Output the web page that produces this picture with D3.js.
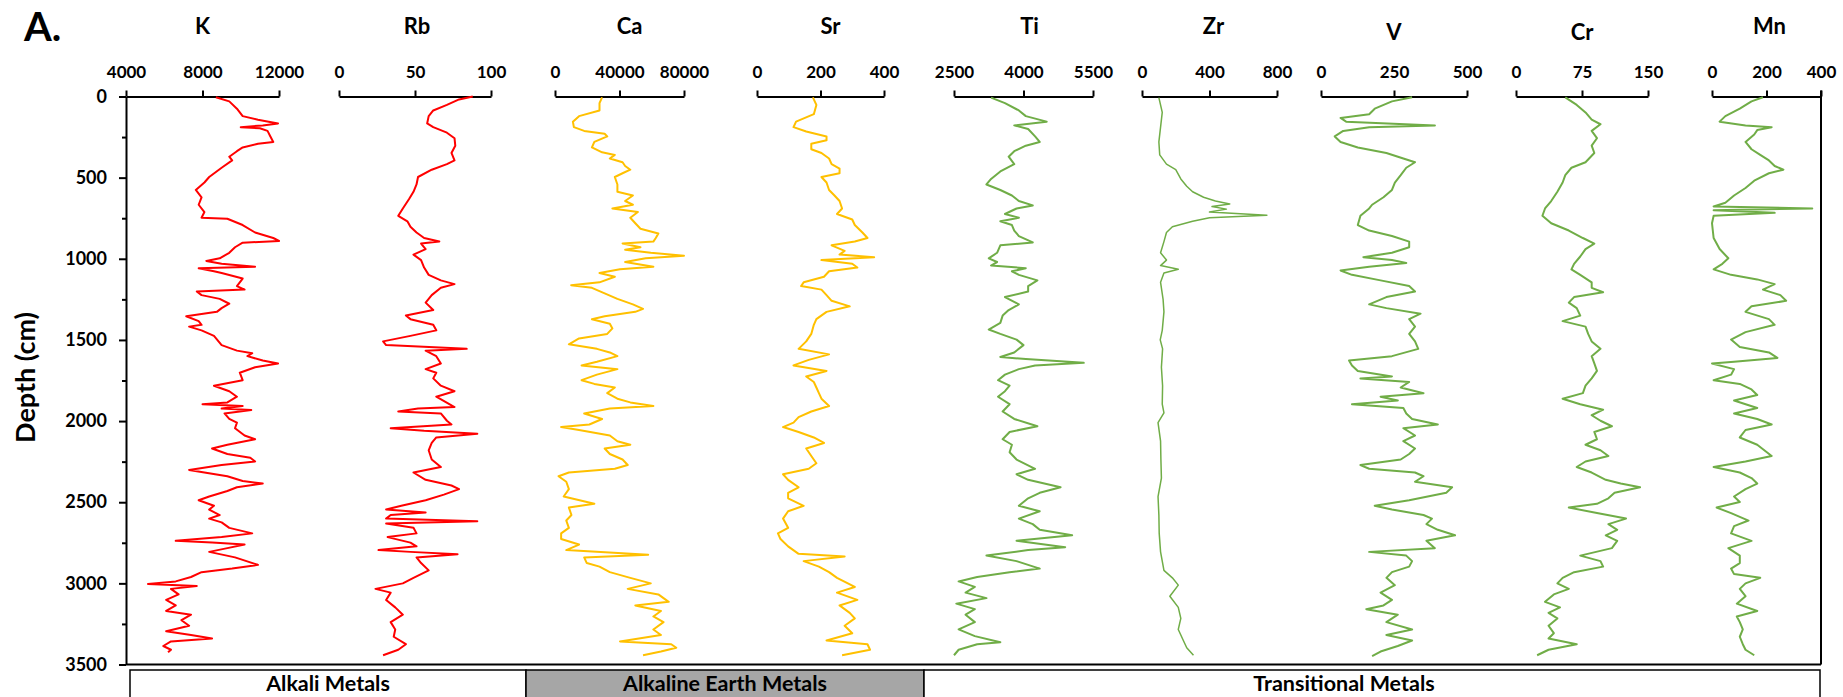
<!DOCTYPE html>
<html>
<head>
<meta charset="utf-8">
<script src="https://cdn.jsdelivr.net/npm/d3@7"></script>
<style>
  body { margin: 0; background: #fff; }
  svg text { font-family: Lato, "Open Sans", sans-serif; font-weight: bold; fill: #000; }
</style>
</head>
<body>
<svg id="chart" width="1843" height="697"></svg>
<script>
// depth (cm), value (ppm)
const kData = [[5,8700],[30,9400],[75,9800],[121,10100],[143,10900],[166,11950],[178,11150],[189,10000],[196,11000],[212,11400],[246,11550],[280,11700],[291,10900],[314,10100],[337,9800],[371,9400],[394,9550],[439,9000],[496,8350],[530,8100],[576,7650],[621,7950],[667,7800],[712,8100],[747,7950],[753,9300],[792,10100],[838,10750],[872,11700],[890,12000],[901,10100],[929,9700],[963,9400],[997,8900],[1013,8200],[1031,9000],[1049,10750],[1058,7800],[1077,8600],[1088,9000],[1122,10100],[1168,9800],[1190,10200],[1202,7700],[1224,7950],[1247,8900],[1277,9400],[1304,9000],[1327,8750],[1354,7150],[1384,7800],[1407,7950],[1418,7300],[1441,7950],[1475,8600],[1532,9000],[1566,9800],[1582,10600],[1600,10350],[1627,11150],[1645,11950],[1668,10750],[1702,9950],[1748,10100],[1782,8600],[1816,9400],[1850,9800],[1885,9300],[1896,8000],[1907,10100],[1923,9000],[1932,10550],[1953,9150],[1987,9400],[2010,9800],[2044,9700],[2089,10200],[2112,10750],[2146,9300],[2169,8500],[2203,9300],[2226,10500],[2249,10750],[2271,9000],[2301,7300],[2317,8100],[2340,9300],[2369,10100],[2385,11150],[2408,9800],[2431,9300],[2465,8350],[2488,7800],[2522,8600],[2545,8350],[2579,8900],[2601,8350],[2624,9000],[2658,9400],[2692,10600],[2715,9000],[2738,6600],[2749,8500],[2761,10200],[2783,9300],[2806,8350],[2840,9700],[2886,10900],[2909,9550],[2931,7950],[2961,7400],[2988,6600],[3004,5150],[3016,7700],[3034,6350],[3068,6750],[3102,6100],[3136,6600],[3170,6100],[3193,7400],[3227,6900],[3261,7300],[3295,6100],[3318,7400],[3340,8500],[3358,6350],[3386,5950],[3409,6350],[3425,6200]];

const rbData = [[0,88],[18,79],[52,71],[86,62],[121,59],[166,58],[189,62],[223,71],[257,76],[303,76.5],[348,74],[394,76],[417,71],[451,61],[496,52],[542,51],[587,49],[633,46],[690,42],[735,39],[769,45],[803,47],[838,51],[872,56],[894,66],[906,54],[940,57],[974,49],[1008,54],[1054,56],[1099,59],[1133,67],[1156,76],[1179,67],[1224,61],[1270,57],[1316,62],[1350,44],[1372,47],[1407,62],[1441,64],[1475,47],[1509,29],[1532,31],[1555,84],[1566,57],[1600,64],[1645,67],[1680,57],[1702,64],[1737,62],[1782,67],[1816,76],[1850,64],[1914,76],[1923,52],[1941,39],[1953,67],[1998,71],[2021,74],[2044,34],[2060,56],[2078,91],[2101,64],[2135,61],[2180,59],[2237,61],[2283,67],[2317,49],[2362,57],[2397,74],[2419,79],[2453,69],[2488,57],[2522,41],[2545,31],[2563,57],[2579,34],[2601,31],[2617,91],[2631,31],[2658,49],[2692,51],[2715,32],[2749,47],[2772,51],[2795,26],[2806,47],[2820,78],[2840,51],[2875,54],[2920,59],[2966,49],[3000,42],[3034,24],[3057,34],[3102,31],[3148,37],[3193,42],[3239,34],[3284,37],[3329,36],[3375,44],[3409,39],[3443,29]];

const caData = [[5,29200],[41,27600],[86,27600],[121,14900],[155,11100],[189,11700],[212,18100],[230,30800],[246,32400],[280,24400],[314,22900],[344,29200],[360,37100],[382,34000],[405,41900],[428,43500],[451,46700],[473,41900],[496,37100],[542,38700],[587,38700],[610,48300],[644,43500],[667,48300],[690,35600],[712,51400],[747,46700],[781,49800],[815,53000],[844,64100],[872,62500],[894,61000],[906,41900],[929,53000],[945,43500],[963,59400],[981,80000],[997,56200],[1020,43500],[1049,61000],[1065,40300],[1088,27600],[1111,37100],[1145,27600],[1163,10000],[1179,22900],[1213,30800],[1247,38700],[1281,48300],[1309,54600],[1327,49800],[1354,30800],[1372,22900],[1400,34000],[1429,35600],[1463,32400],[1491,14900],[1527,8600],[1555,26000],[1577,34000],[1600,38700],[1634,26000],[1657,16500],[1680,38700],[1714,26000],[1748,16500],[1771,24400],[1793,37100],[1828,32400],[1862,38700],[1885,46700],[1907,61000],[1923,34000],[1953,18100],[1987,29200],[2021,21300],[2037,3800],[2055,14900],[2089,34000],[2124,38700],[2146,46700],[2169,30800],[2203,34000],[2237,41900],[2271,45100],[2294,37100],[2317,8600],[2340,2200],[2374,7000],[2419,8600],[2465,5400],[2510,24400],[2533,8600],[2579,10200],[2613,7000],[2658,8600],[2692,3800],[2727,3800],[2761,14900],[2795,7000],[2824,57800],[2840,18100],[2875,19700],[2897,27600],[2931,34000],[2966,46700],[3000,59400],[3034,45100],[3068,64100],[3114,70500],[3136,49800],[3170,65700],[3204,61000],[3239,67300],[3284,61000],[3318,65700],[3358,40300],[3375,72100],[3397,75200],[3420,65700],[3443,54600]];

const srData = [[5,176],[52,187],[109,179],[155,123],[189,115],[216,155],[246,219],[269,219],[291,171],[325,171],[348,203],[382,227],[417,235],[444,260],[473,260],[496,203],[530,219],[576,227],[610,244],[644,260],[690,268],[724,252],[758,300],[792,308],[838,332],[872,348],[894,308],[917,235],[951,276],[974,260],[990,369],[1008,203],[1031,300],[1054,316],[1077,227],[1111,211],[1145,147],[1168,139],[1190,203],[1224,219],[1259,235],[1293,292],[1327,219],[1372,187],[1407,179],[1463,171],[1509,155],[1555,131],[1589,227],[1623,163],[1657,115],[1691,219],[1725,155],[1759,179],[1793,187],[1828,195],[1862,203],[1907,227],[1941,171],[1976,131],[2010,115],[2037,82],[2067,131],[2101,179],[2135,211],[2169,155],[2215,171],[2260,187],[2294,163],[2328,82],[2362,98],[2408,131],[2442,98],[2476,98],[2522,147],[2556,98],[2601,82],[2658,98],[2692,66],[2727,74],[2772,98],[2818,131],[2834,276],[2863,147],[2897,195],[2931,227],[2966,252],[3022,308],[3057,252],[3102,316],[3136,260],[3182,292],[3216,308],[3261,276],[3307,300],[3352,219],[3375,348],[3409,356],[3443,268]];

const tiData = [[7,3300],[41,3600],[86,3900],[121,4050],[155,4500],[178,3800],[200,4100],[246,4250],[280,4350],[303,4050],[337,3800],[371,3680],[417,3800],[462,3500],[508,3300],[542,3200],[576,3500],[610,3750],[644,3900],[671,4200],[690,3850],[724,3600],[747,3900],[769,3500],[792,3750],[826,3800],[860,3900],[899,4200],[917,3500],[963,3430],[997,3250],[1020,3430],[1042,3300],[1058,4050],[1077,3750],[1099,3900],[1133,4300],[1168,4100],[1202,4100],[1236,3600],[1281,3900],[1316,3680],[1350,3550],[1395,3500],[1436,3250],[1463,3500],[1498,3850],[1532,4000],[1577,3800],[1605,3500],[1618,4050],[1641,5300],[1657,4250],[1680,3900],[1714,3600],[1748,3450],[1782,3700],[1816,3600],[1850,3450],[1896,3700],[1941,3550],[1987,3800],[2032,4300],[2067,3700],[2112,3550],[2146,3750],[2192,3700],[2237,3850],[2294,4250],[2328,3850],[2362,4100],[2408,4800],[2442,4350],[2476,4100],[2522,3900],[2556,4350],[2601,3900],[2635,4200],[2670,4350],[2704,5050],[2738,3850],[2777,4900],[2795,4100],[2829,3200],[2863,3850],[2909,4350],[2931,3700],[2961,3000],[2988,2600],[3022,2950],[3057,2750],[3091,3200],[3125,2550],[3159,2950],[3193,2750],[3239,2950],[3284,2600],[3325,2950],[3363,3500],[3375,3000],[3409,2600],[3443,2500]];

const zrData = [[7,100],[98,120],[189,110],[280,100],[360,105],[417,145],[451,200],[508,230],[553,265],[587,300],[621,365],[644,435],[662,520],[678,415],[694,500],[712,400],[731,740],[747,400],[769,300],[803,180],[838,145],[894,130],[963,110],[1008,145],[1042,110],[1065,215],[1088,130],[1145,110],[1250,125],[1327,130],[1441,120],[1500,108],[1555,122],[1668,115],[1782,122],[1896,120],[1950,130],[2010,95],[2124,110],[2237,112],[2351,115],[2465,95],[2579,100],[2692,102],[2806,110],[2920,130],[2966,180],[3011,215],[3079,165],[3148,215],[3216,230],[3284,215],[3352,245],[3397,265],[3443,305]];

const vData = [[5,312],[30,243],[75,184],[109,165],[132,67],[155,86],[178,390],[189,165],[212,76],[246,47],[280,67],[314,126],[348,224],[382,282],[405,322],[439,292],[485,273],[530,253],[576,243],[621,214],[667,175],[690,165],[735,135],[792,126],[826,165],[860,243],[894,302],[929,302],[963,243],[990,145],[1008,243],[1026,292],[1049,165],[1072,67],[1099,106],[1133,204],[1168,302],[1202,322],[1236,224],[1281,165],[1304,224],[1338,341],[1372,302],[1418,322],[1463,302],[1509,322],[1555,333],[1600,243],[1627,96],[1657,106],[1691,126],[1725,243],[1737,135],[1759,302],[1793,273],[1828,351],[1850,204],[1873,263],[1896,106],[1919,282],[1953,292],[1987,312],[2021,400],[2044,282],[2089,322],[2124,282],[2169,322],[2203,302],[2237,273],[2271,135],[2294,165],[2317,322],[2340,351],[2374,322],[2408,449],[2442,429],[2488,302],[2522,184],[2545,243],[2579,351],[2601,380],[2635,361],[2670,400],[2704,459],[2738,361],[2783,390],[2806,165],[2829,292],[2863,312],[2897,302],[2931,243],[2966,224],[3011,253],[3057,204],[3102,243],[3136,214],[3159,155],[3193,263],[3239,224],[3284,312],[3318,224],[3352,312],[3386,263],[3420,204],[3448,175]];

const crData = [[5,56],[52,69],[98,79],[143,86],[171,96],[212,86],[257,92],[303,86],[348,89],[405,79],[439,63],[485,56],[530,53],[587,47],[644,40],[690,33],[735,30],[781,40],[826,60],[872,76],[906,89],[940,79],[986,73],[1031,66],[1065,63],[1099,73],[1145,86],[1179,86],[1206,99],[1236,66],[1270,60],[1304,69],[1350,73],[1384,53],[1418,79],[1463,82],[1509,86],[1555,96],[1600,86],[1645,89],[1691,92],[1737,86],[1782,79],[1828,76],[1862,53],[1896,73],[1930,99],[1964,86],[1998,96],[2032,109],[2067,89],[2112,92],[2146,79],[2180,96],[2215,105],[2249,79],[2283,69],[2317,86],[2362,102],[2385,119],[2408,141],[2442,112],[2476,105],[2510,92],[2533,60],[2567,92],[2601,125],[2635,105],[2670,115],[2704,102],[2738,115],[2783,109],[2829,73],[2863,96],[2897,99],[2931,66],[2966,53],[3000,47],[3034,60],[3068,43],[3114,33],[3148,50],[3182,37],[3216,47],[3261,37],[3307,43],[3340,37],[3375,69],[3409,37],[3443,24]];

const mnData = [[5,187],[30,145],[75,102],[121,49],[155,28],[178,123],[189,219],[207,166],[234,155],[280,123],[325,145],[360,177],[394,209],[428,230],[451,262],[473,209],[519,155],[564,123],[610,81],[655,49],[678,6],[690,368],[701,6],[717,230],[735,6],[781,0],[872,6],[940,28],[997,60],[1031,38],[1065,6],[1099,70],[1127,166],[1156,230],[1190,187],[1224,251],[1259,272],[1293,145],[1327,123],[1372,209],[1407,230],[1452,123],[1498,70],[1543,102],[1577,209],[1611,240],[1634,81],[1645,0],[1680,81],[1714,70],[1748,6],[1771,102],[1805,145],[1839,166],[1873,81],[1919,166],[1953,81],[1987,166],[2021,219],[2055,123],[2101,102],[2146,166],[2215,219],[2249,123],[2283,6],[2317,102],[2351,145],[2385,166],[2419,123],[2465,81],[2499,102],[2533,17],[2567,70],[2613,134],[2647,81],[2692,70],[2738,145],[2783,60],[2829,102],[2875,102],[2909,70],[2943,81],[2966,177],[3000,123],[3034,102],[3079,123],[3125,91],[3170,166],[3204,91],[3239,102],[3284,113],[3329,102],[3375,113],[3409,123],[3443,155]];

const elements = ['K', 'Rb', 'Ca', 'Sr', 'Ti', 'Zr', 'V', 'Cr', 'Mn'];
const series = [kData, rbData, caData, srData, tiData, zrData, vData, crData, mnData];
const domains = [[4000, 12000], [0, 100], [0, 80000], [0, 400], [2500, 5500], [0, 800], [0, 500], [0, 150], [0, 400]];
const tickValues = [[4000, 8000, 12000], [0, 50, 100], [0, 40000, 80000], [0, 200, 400], [2500, 4000, 5500], [0, 400, 800], [0, 250, 500], [0, 75, 150], [0, 200, 400]];
const groupNames = ['Alkali Metals', 'Alkaline Earth Metals', 'Transitional Metals'];
const depthTicks = [0, 500, 1000, 1500, 2000, 2500, 3000, 3500];
const depthMinor = [250, 750, 1250, 1750, 2250, 2750, 3250];

// layout (pixels)
const panelX = [[126, 279], [339, 491], [555, 684], [757, 884], [954, 1093], [1142, 1277], [1321, 1467], [1516, 1648], [1712, 1821]];
const titleShift = [[0, 0], [2, 0], [10, 0], [10, 0], [6, 0], [4, 0], [0, 6], [0, 6], [3, 0]];
const colors = ['#ff0000', '#ff0000', '#ffc000', '#ffc000', '#70ad47', '#70ad47', '#70ad47', '#70ad47', '#70ad47'];
const groupX = [[130, 526], [526, 924], [924, 1820]];
const groupFill = ['#ffffff', '#a6a6a6', '#ffffff'];
const plotTop = 96.5, plotBottom = 664.5, plotLeft = 126, plotRight = 1821;

const svg = d3.select('#chart');

const y = d3.scaleLinear().domain([0, 3500]).range([plotTop, plotBottom]);

// frame: right and bottom lines
svg.append('line')
  .attr('x1', plotLeft).attr('x2', plotRight).attr('y1', plotBottom).attr('y2', plotBottom)
  .attr('stroke', '#000').attr('stroke-width', 2);
svg.append('line')
  .attr('x1', plotRight).attr('x2', plotRight).attr('y1', plotTop - 6).attr('y2', plotBottom)
  .attr('stroke', '#000').attr('stroke-width', 2);

// depth axis
const yAxis = svg.append('g')
  .attr('transform', 'translate(' + plotLeft + ',0)')
  .call(d3.axisLeft(y).tickValues(depthTicks).tickSize(7).tickSizeOuter(0)
    .tickPadding(12).tickFormat(d3.format('d')));
yAxis.selectAll('text').style('font-size', '18px');
svg.append('g')
  .attr('transform', 'translate(' + plotLeft + ',0)')
  .call(d3.axisLeft(y).tickValues(depthMinor).tickSize(4).tickSizeOuter(0).tickFormat(''))
  .select('.domain').remove();
svg.selectAll('.domain, .tick line').attr('stroke-width', 2);

svg.append('text')
  .attr('transform', 'translate(35,' + ((plotTop + plotBottom) / 2 - 3) + ') rotate(-90)')
  .attr('text-anchor', 'middle')
  .style('font-size', '27px')
  .text('Depth (cm)');

svg.append('text')
  .attr('x', 24).attr('y', 41)
  .style('font-size', '40px')
  .text('A.');

// one panel per element
elements.forEach(function (el, i) {
  const x = d3.scaleLinear().domain(domains[i]).range(panelX[i]);

  const ax = svg.append('g')
    .attr('transform', 'translate(0,' + plotTop + ')')
    .call(d3.axisTop(x).tickValues(tickValues[i]).tickSize(6).tickSizeOuter(0)
      .tickPadding(13).tickFormat(d3.format('d')));
  ax.selectAll('text').style('font-size', '17px');
  ax.selectAll('.domain, .tick line').attr('stroke-width', 2);

  svg.append('text')
    .attr('x', x(tickValues[i][1]) + titleShift[i][0])
    .attr('y', 34 + titleShift[i][1])
    .attr('text-anchor', 'middle')
    .style('font-size', '22px')
    .text(el);

  svg.append('path')
    .datum(series[i])
    .attr('fill', 'none')
    .attr('stroke', colors[i])
    .attr('stroke-width', el === 'Zr' ? 1.5 : 2)
    .attr('stroke-linejoin', 'round')
    .attr('d', d3.line()
      .x(function (d) { return x(d[1]); })
      .y(function (d) { return y(d[0]); }));
});

// element group boxes
groupNames.forEach(function (g, i) {
  svg.append('rect')
    .attr('x', groupX[i][0]).attr('y', 670)
    .attr('width', groupX[i][1] - groupX[i][0]).attr('height', 40)
    .attr('fill', groupFill[i])
    .attr('stroke', '#000').attr('stroke-width', 1.5);
  svg.append('text')
    .attr('x', (groupX[i][0] + groupX[i][1]) / 2 - (i === 2 ? 28 : 0)).attr('y', 691)
    .attr('text-anchor', 'middle')
    .style('font-size', '21.5px')
    .text(g);
});
</script>
</body>
</html>
